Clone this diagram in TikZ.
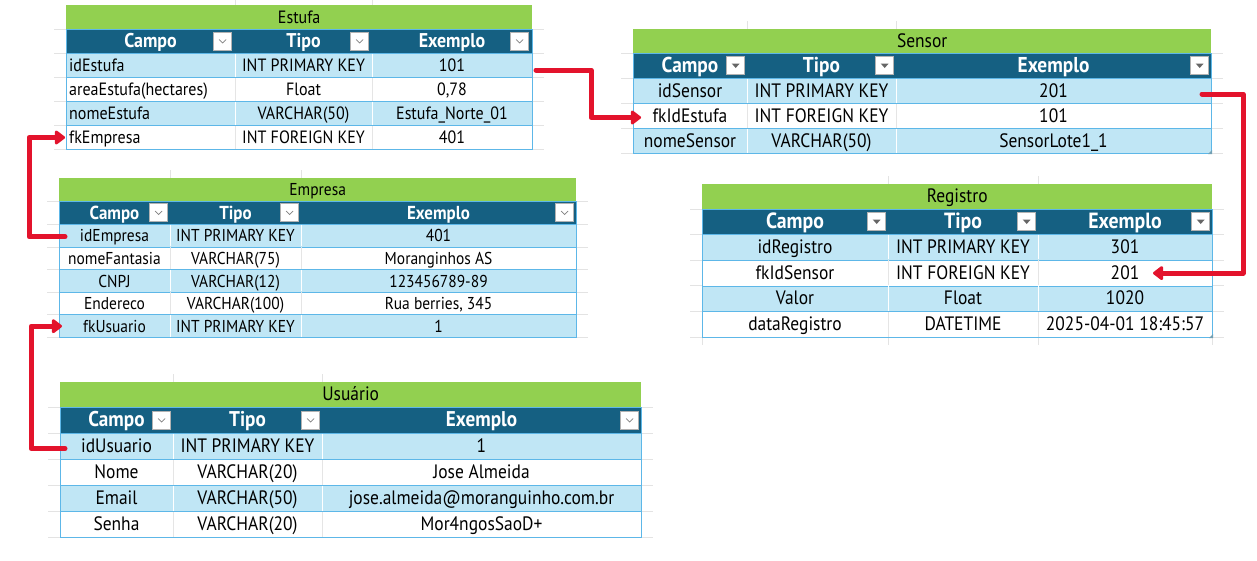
\documentclass[tikz,border=0pt]{standalone}
\usepackage{fontspec}
\setmainfont{PT Sans}[FakeStretch=0.9]
\usetikzlibrary{positioning}
\usetikzlibrary{arrows.meta}

\definecolor{titlegreen}{HTML}{92D050}
\definecolor{headblue}{HTML}{156082}
\definecolor{rowblue}{HTML}{C0E6F5}
\definecolor{rowline}{HTML}{5DB7E8}
\definecolor{fkred}{HTML}{E3132C}
\definecolor{gridgray}{HTML}{E3E3E3}

\tikzset{
  titlebar/.style={fill=titlegreen, anchor=north west, inner sep=0pt, text height=12.5pt, text depth=0pt},
  headbar/.style={fill=headblue, draw=rowline, line width=1pt, anchor=north west, inner sep=0pt},
  tabrow/.style={draw=rowline, line width=1pt, anchor=north west, inner sep=0pt},
  headtext/.style={text=white, inner sep=0pt, text height=13pt, text depth=0pt},
  cell/.style={inner sep=0pt, text height=13pt, text depth=0pt},
  ddbox/.style={draw=gray!60, fill=white, line width=0.6pt, minimum size=18pt, inner sep=0pt, anchor=east},
  ddchev/.style={ddbox, path picture={\draw[gray, line width=0.7pt]
      ([xshift=-3.5pt,yshift=1.5pt]path picture bounding box.center) --
      ([yshift=-2pt]path picture bounding box.center) --
      ([xshift=3.5pt,yshift=1.5pt]path picture bounding box.center);}},
  ddtri/.style={ddbox, path picture={\fill[gray!80!black]
      ([xshift=-4pt,yshift=2pt]path picture bounding box.center) --
      ([xshift=4pt,yshift=2pt]path picture bounding box.center) --
      ([yshift=-2.5pt]path picture bounding box.center) -- cycle;}},
  colsep/.style={line width=0.8pt},
  stub/.style={draw=gridgray, line width=0.8pt},
  fkarrow/.style={draw=fkred, line width=5pt, line cap=round, line join=round,
      -{Triangle[length=11pt,width=16pt,round]}},
  handle/.style={fill=headblue!60},
}

\begin{document}
\begin{tikzpicture}[x=1pt, y=-1pt]
\fill[white] (0,0) rectangle (1257,560);
\useasboundingbox (0,0) rectangle (1257,560);

% faint sheet grid round the tables
\foreach \x in {235,372} \draw[stub] (\x,0) -- (\x,5);
\foreach \y in {29,53,77,101,125,149} \draw[stub] (54,\y) -- (66,\y) (532,\y) -- (544,\y);
\foreach \x in {747,896} \draw[stub] (\x,21) -- (\x,29);
\foreach \y in {53,78,103,128,153} \draw[stub] (621,\y) -- (633,\y) (1211,\y) -- (1223,\y);
\foreach \x in {170,301} \draw[stub] (\x,170) -- (\x,178);
\foreach \y in {201,224,247,269,292,314,337} \draw[stub] (47,\y) -- (59,\y) (576,\y) -- (588,\y);
\foreach \x in {888,1038} \draw[stub] (\x,176) -- (\x,184);
\foreach \x in {702,888,1038,1212} \draw[stub] (\x,337) -- (\x,345);
\foreach \y in {209,234,260,285,311,337} \draw[stub] (690,\y) -- (702,\y) (1212,\y) -- (1224,\y);
\foreach \x in {173,322} \draw[stub] (\x,374) -- (\x,382);
\foreach \y in {407,433,459,485,511,537} \draw[stub] (48,\y) -- (60,\y) (641,\y) -- (653,\y);

% Estufa
\begin{scope}[font=\fontsize{17.8}{20}\selectfont,
    headtext/.append style={font=\fontsize{19.9}{22}\selectfont\bfseries}]
\node[titlebar, minimum width=466pt, minimum height=24pt] (estufa) at (66,5) {Estufa};
\node[headbar, minimum width=466pt, minimum height=24pt] (estufa-head) at (66,29) {};
\foreach \x/\lbl [count=\j] in {150.5/Campo,303.5/Tipo,452/Exemplo}
  \node[headtext] (estufa-h\j) at (\x,41) {\lbl};
\foreach \x [count=\j] in {232,369,529}
  \node[ddchev] (estufa-dd\j) at (\x,41) {};
\foreach \campo/\tipo/\exemplo [count=\i] in {idEstufa/INT PRIMARY KEY/101,
    {areaEstufa(hectares)}/Float/{0,78}, nomeEstufa/VARCHAR(50)/Estufa\_Norte\_01,
    fkEmpresa/INT FOREIGN KEY/401}{
  \ifodd\i \def\rowfill{rowblue}\def\sepfill{white}\else \def\rowfill{white}\def\sepfill{gray!20}\fi
  \node[tabrow, fill=\rowfill, minimum width=466pt, minimum height=24pt] (estufa-\i) at (66,29+24*\i) {};
  \draw[colsep, \sepfill] (235,29.5+24*\i) -- (235,52.5+24*\i) (372,29.5+24*\i) -- (372,52.5+24*\i);
  \node[cell, anchor=west] (estufa-\i-f) at (69,41+24*\i) {\campo};
  \node[cell] (estufa-\i-t) at (303.5,41+24*\i) {\tipo};
  \node[cell] (estufa-\i-e) at (452,41+24*\i) {\exemplo};
}
\end{scope}

% Sensor
\begin{scope}[font=\fontsize{19.4}{22}\selectfont,
    headtext/.append style={font=\fontsize{21.5}{24}\selectfont\bfseries}]
\node[titlebar, minimum width=578pt, minimum height=24pt] (sensor) at (633,29) {Sensor};
\node[headbar, minimum width=578pt, minimum height=25pt] (sensor-head) at (633,53) {};
\foreach \x/\lbl [count=\j] in {690/Campo,821.5/Tipo,1053.5/Exemplo}
  \node[headtext] (sensor-h\j) at (\x,65.5) {\lbl};
\foreach \x [count=\j] in {745,894,1209}
  \node[ddtri] (sensor-dd\j) at (\x,65.5) {};
\foreach \campo/\tipo/\exemplo [count=\i] in {idSensor/INT PRIMARY KEY/201,
    fkIdEstufa/INT FOREIGN KEY/101, nomeSensor/VARCHAR(50)/SensorLote1\_1}{
  \ifodd\i \def\rowfill{rowblue}\def\sepfill{white}\else \def\rowfill{white}\def\sepfill{gray!20}\fi
  \node[tabrow, fill=\rowfill, minimum width=578pt, minimum height=25pt] (sensor-\i) at (633,53+25*\i) {};
  \draw[colsep, \sepfill] (747,53.5+25*\i) -- (747,77.5+25*\i) (896,53.5+25*\i) -- (896,77.5+25*\i);
  \node[cell] (sensor-\i-f) at (690,65.5+25*\i) {\campo};
  \node[cell] (sensor-\i-t) at (821.5,65.5+25*\i) {\tipo};
  \node[cell] (sensor-\i-e) at (1053.5,65.5+25*\i) {\exemplo};
}
\fill[handle] (sensor-3.south east) -- ++(-4,0) -- ++(4,-4) -- cycle;
\end{scope}

% Empresa
\begin{scope}[font=\fontsize{17.2}{20}\selectfont,
    headtext/.append style={font=\fontsize{18.8}{21}\selectfont\bfseries}]
\node[titlebar, minimum width=517pt, minimum height=23pt] (empresa) at (59,178) {Empresa};
\node[headbar, minimum width=517pt, minimum height=23pt] (empresa-head) at (59,201) {};
\foreach \x/\lbl [count=\j] in {114.5/Campo,235.5/Tipo,438.5/Exemplo}
  \node[headtext] (empresa-h\j) at (\x,212.5) {\lbl};
\foreach \x [count=\j] in {168,299,574}
  \node[ddchev] (empresa-dd\j) at (\x,212.5) {};
\foreach \campo/\tipo/\exemplo [count=\i] in {idEmpresa/INT PRIMARY KEY/401,
    nomeFantasia/VARCHAR(75)/Moranginhos AS, CNPJ/VARCHAR(12)/123456789-89,
    Endereco/VARCHAR(100)/{Rua berries, 345}, fkUsuario/INT PRIMARY KEY/1}{
  \ifodd\i \def\rowfill{rowblue}\def\sepfill{white}\else \def\rowfill{white}\def\sepfill{gray!20}\fi
  \node[tabrow, fill=\rowfill, minimum width=517pt, minimum height=22.6pt] (empresa-\i) at (59,201.4+22.6*\i) {};
  \draw[colsep, \sepfill] (170,201.9+22.6*\i) -- (170,223.5+22.6*\i) (301,201.9+22.6*\i) -- (301,223.5+22.6*\i);
  \node[cell] (empresa-\i-f) at (114.5,212.7+22.6*\i) {\campo};
  \node[cell] (empresa-\i-t) at (235.5,212.7+22.6*\i) {\tipo};
  \node[cell] (empresa-\i-e) at (438.5,212.7+22.6*\i) {\exemplo};
}
\end{scope}

% Registro
\begin{scope}[font=\fontsize{19.4}{22}\selectfont,
    headtext/.append style={font=\fontsize{22}{24}\selectfont\bfseries}]
\node[titlebar, minimum width=510pt, minimum height=25pt] (registro) at (702,184) {Registro};
\node[headbar, minimum width=510pt, minimum height=25pt] (registro-head) at (702,209) {};
\foreach \x/\lbl [count=\j] in {795/Campo,963/Tipo,1125/Exemplo}
  \node[headtext] (registro-h\j) at (\x,221.5) {\lbl};
\foreach \x [count=\j] in {886,1036,1210}
  \node[ddtri] (registro-dd\j) at (\x,221.5) {};
\foreach \campo/\tipo/\exemplo [count=\i] in {idRegistro/INT PRIMARY KEY/301,
    fkIdSensor/INT FOREIGN KEY/201, Valor/Float/1020, dataRegistro/DATETIME/2025-04-01 18:45:57}{
  \ifodd\i \def\rowfill{rowblue}\def\sepfill{white}\else \def\rowfill{white}\def\sepfill{gray!20}\fi
  \node[tabrow, fill=\rowfill, minimum width=510pt, minimum height=25.75pt] (registro-\i) at (702,208.25+25.75*\i) {};
  \draw[colsep, \sepfill] (888,208.75+25.75*\i) -- (888,233.5+25.75*\i) (1038,208.75+25.75*\i) -- (1038,233.5+25.75*\i);
  \node[cell] (registro-\i-f) at (795,221.1+25.75*\i) {\campo};
  \node[cell] (registro-\i-t) at (963,221.1+25.75*\i) {\tipo};
  \node[cell] (registro-\i-e) at (1125,221.1+25.75*\i) {\exemplo};
}
\fill[handle] (registro-4.south east) -- ++(-4,0) -- ++(4,-4) -- cycle;
\end{scope}

% Usuario
\begin{scope}[font=\fontsize{19.4}{22}\selectfont,
    headtext/.append style={font=\fontsize{21.3}{24}\selectfont\bfseries}]
\node[titlebar, minimum width=581pt, minimum height=25pt] (usuario) at (60,382) {Usuário};
\node[headbar, minimum width=581pt, minimum height=26pt] (usuario-head) at (60,407) {};
\foreach \x/\lbl [count=\j] in {116.5/Campo,247.5/Tipo,481.5/Exemplo}
  \node[headtext] (usuario-h\j) at (\x,420) {\lbl};
\foreach \x [count=\j] in {171,320,639}
  \node[ddchev] (usuario-dd\j) at (\x,420) {};
\foreach \campo/\tipo/\exemplo [count=\i] in {idUsuario/INT PRIMARY KEY/1,
    Nome/VARCHAR(20)/Jose Almeida, Email/VARCHAR(50)/jose.almeida@moranguinho.com.br,
    Senha/VARCHAR(20)/Mor4ngosSaoD+}{
  \ifodd\i \def\rowfill{rowblue}\def\sepfill{white}\else \def\rowfill{white}\def\sepfill{gray!20}\fi
  \node[tabrow, fill=\rowfill, minimum width=581pt, minimum height=26pt] (usuario-\i) at (60,407+26*\i) {};
  \draw[colsep, \sepfill] (173,407.5+26*\i) -- (173,432.5+26*\i) (322,407.5+26*\i) -- (322,432.5+26*\i);
  \node[cell] (usuario-\i-f) at (116.5,420+26*\i) {\campo};
  \node[cell] (usuario-\i-t) at (247.5,420+26*\i) {\tipo};
  \node[cell] (usuario-\i-e) at (481.5,420+26*\i) {\exemplo};
}
\end{scope}

% chaves estrangeiras
\draw[fkarrow] ([xshift=3pt,yshift=-4.5pt]estufa-1.east) -- ++(55,0) |- ([xshift=8pt,yshift=-1.5pt]sensor-2.west);
\draw[fkarrow] ([xshift=6pt,yshift=-1pt]empresa-1.west) -- ++(-36,0) |- ([xshift=-1pt]estufa-4.west);
\draw[fkarrow] ([xshift=5pt,yshift=-2pt]usuario-1.west) -- ++(-34,0) |- ([xshift=3pt]empresa-5.west);
\draw[fkarrow] ([xshift=-10pt,yshift=-3pt]sensor-1.east) -- ++(41,0) |- ([xshift=-60pt]registro-2.east);
\end{tikzpicture}
\end{document}
